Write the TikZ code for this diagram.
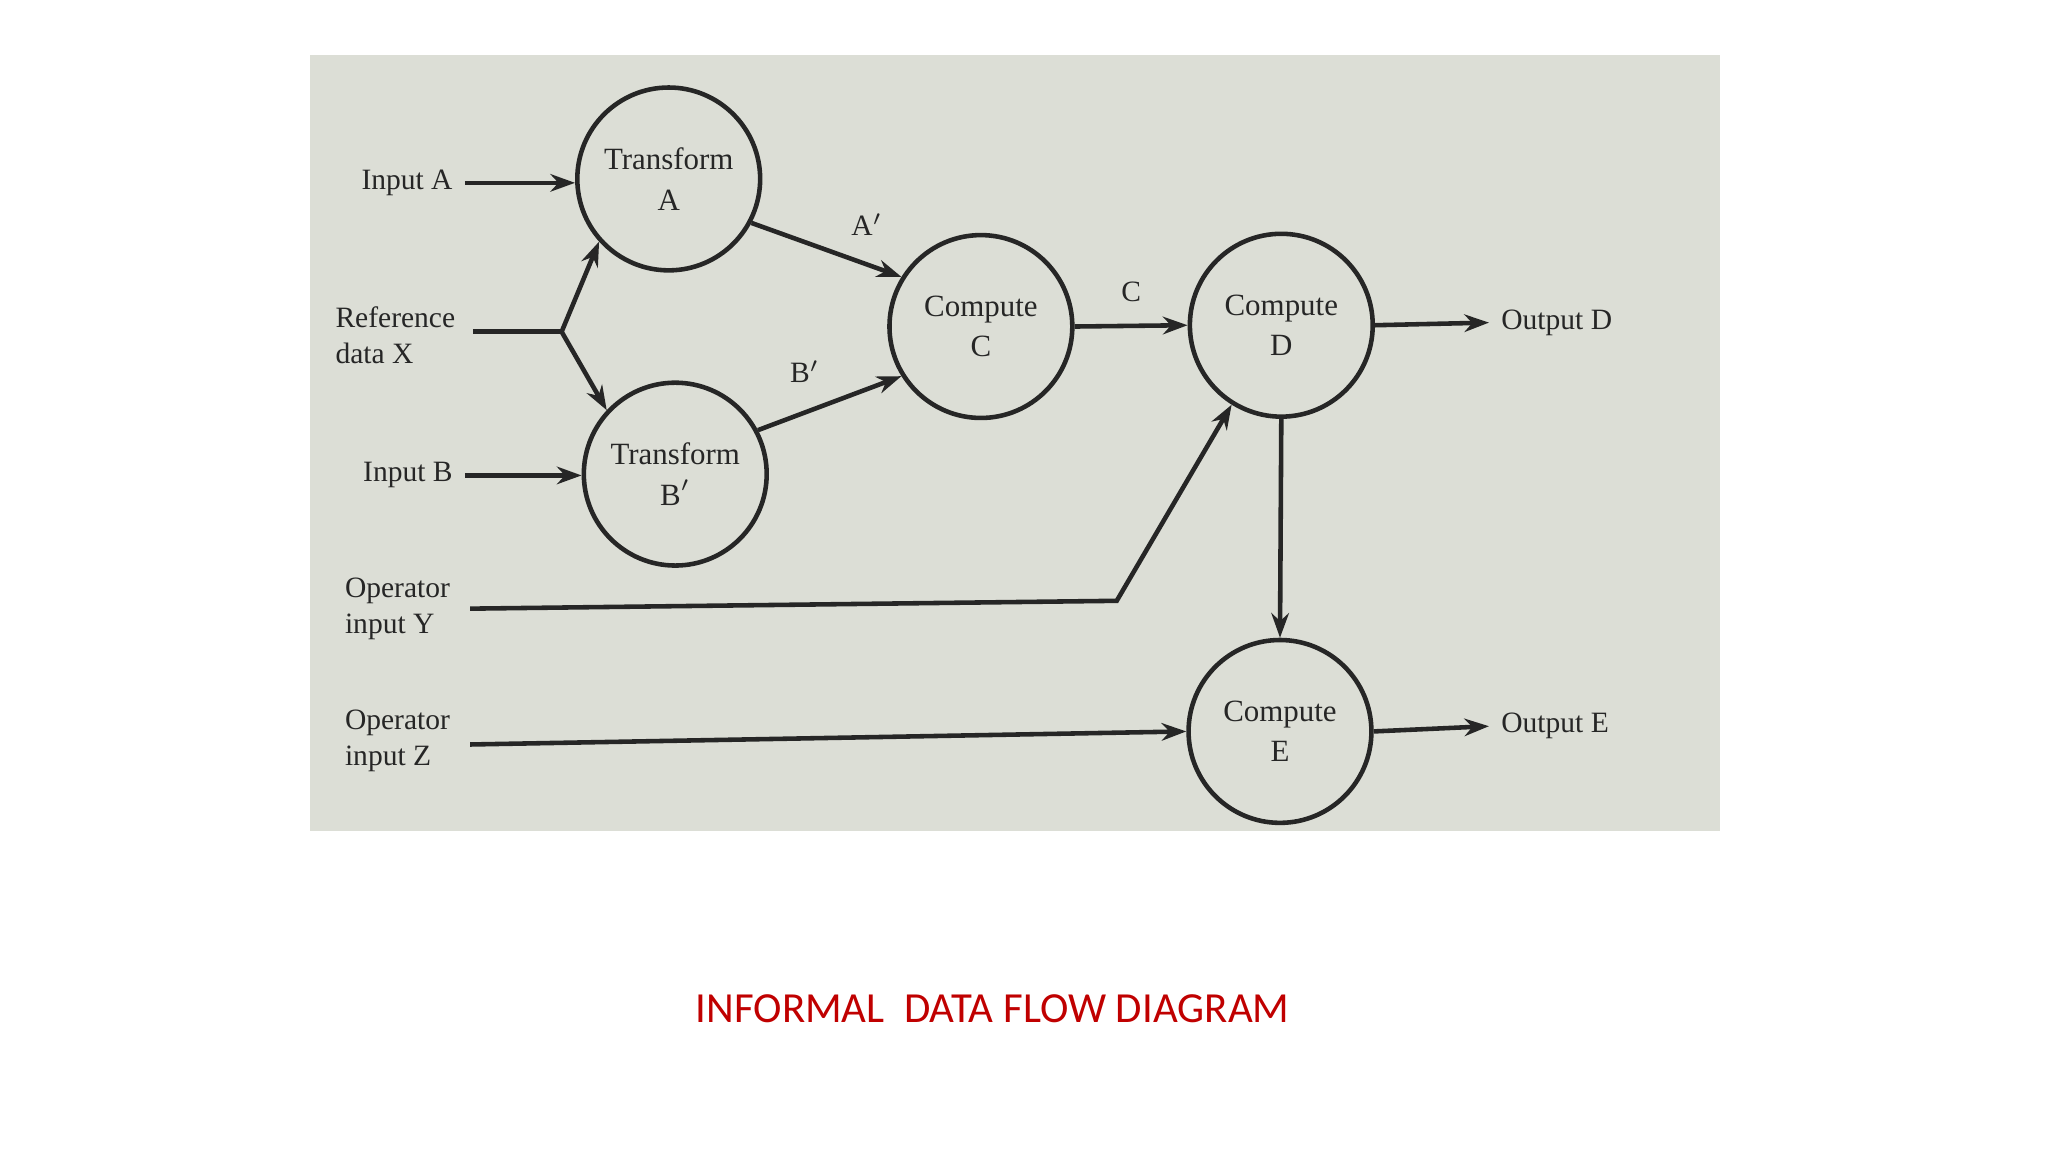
\documentclass[tikz,border=0pt]{standalone}
\usepackage{fontspec}
\setmainfont{Liberation Serif}
\newfontfamily\titlefont{Carlito}
\usetikzlibrary{arrows.meta}
\definecolor{paper}{HTML}{DCDED6}
\definecolor{ink}{HTML}{262626}
\definecolor{titlered}{HTML}{C00000}
\tikzset{
  proc/.style={circle,draw=ink,line width=1.3pt,minimum size=#1,align=center,inner sep=0pt,font=\fontsize{8.8}{11.5}\selectfont,text=ink},
  lab/.style={align=left,font=\fontsize{8.4}{10.2}\selectfont,text=ink},
  flow/.style={draw=ink,line width=1.3pt,-{Stealth[length=7pt,width=5pt]}},
  wire/.style={draw=ink,line width=1.3pt}
}
\begin{document}
\begin{tikzpicture}[x=0.013061cm,y=-0.013061cm]
\useasboundingbox (0,0) rectangle (1568,882);
\fill[white] (0,0) rectangle (1568,882);
\fill[paper] (237,42) rectangle (1317,636);
% processes
\node[proc=140*0.013061cm] (ta) at (512,137) {Transform\\A};
\node[proc=140*0.013061cm] (tb) at (517,363) {Transform\\B$'$};
\node[proc=140*0.013061cm] (cc) at (751,250) {Compute\\C};
\node[proc=140*0.013061cm] (cd) at (981,249) {Compute\\D};
\node[proc=140*0.013061cm] (ce) at (980,560) {Compute\\E};
% inputs
\node[lab,anchor=east] (ia) at (356,140) {Input A};
\node[lab,anchor=east] (rx) at (358,257) {Reference\\data X};
\node[lab,anchor=east] (ib) at (356,364) {Input B};
\node[lab,anchor=east] (oy) at (354,466) {Operator\\input Y};
\node[lab,anchor=east] (oz) at (354,567) {Operator\\input Z};
\node[lab,anchor=west] (od) at (1140,247) {Output D};
\node[lab,anchor=west] (oe) at (1140,556) {Output E};
\coordinate (xs) at (362,254);
\coordinate (xb) at (430,254);
\coordinate (ybend) at (855,460);
\coordinate (ys) at (360,466);
\coordinate (zs) at (360,570);
% connectors
\draw[flow] (ia.east) -- (ta.west |- ia.east);
\draw[flow] (ib.east) -- (tb.west |- ib.east);
\draw[wire] (xs) -- (xb);
\draw[flow] (xb) -- (ta.222);
\draw[flow] (xb) -- (tb.137);
\draw[flow] (ta.-28) -- node[lab,above right=1pt,pos=0.55] {A$'$} (cc.148);
\draw[flow] (tb.28) -- node[lab,above left=1pt,pos=0.55] {B$'$} (cc.-148);
\draw[flow] (cc.east) -- node[lab,above=3pt] {C} (cd.west);
\draw[flow] (cd.east) -- (od.west);
\draw[flow] (cd.south) -- (ce.north);
\draw[flow] (ys) -- (ybend) -- (cd.-122);
\draw[flow] (zs) -- (ce.west);
\draw[flow] (ce.east) -- (oe.west);
% title
\node[text=titlered,font=\titlefont\fontsize{12.2}{15}\selectfont] (title) at (760,772) {INFORMAL\ \ DATA FLOW DIAGRAM};
\end{tikzpicture}
\end{document}
